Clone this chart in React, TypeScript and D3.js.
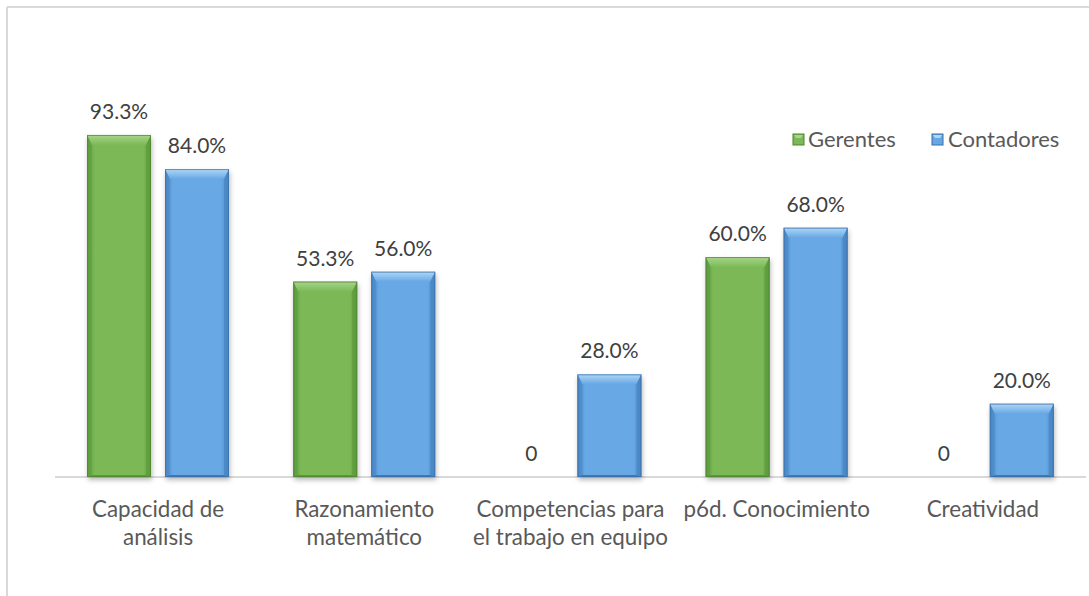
import React from "react";
import * as d3 from "d3";

const categories: string[][] = [
  ["Capacidad de", "análisis"],
  ["Razonamiento", "matemático"],
  ["Competencias para", "el trabajo en equipo"],
  ["p6d. Conocimiento"],
  ["Creatividad"],
];
const seriesNames = ["Gerentes", "Contadores"];
const gerentes = [93.3, 53.3, 0, 60.0, 0];
const contadores = [84.0, 56.0, 28.0, 68.0, 20.0];
const gerentesLabels = ["93.3%", "53.3%", "0", "60.0%", "0"];
const contadoresLabels = ["84.0%", "56.0%", "28.0%", "68.0%", "20.0%"];

const W = 1089;
const H = 596;
const FONT = "Lato, 'Open Sans', sans-serif";

const palette = [
  { mid: "#7bb957", edge: "#5c9a3b", top: "#a8d68a", bottom: "#5d963c", stroke: "#4f8332" },
  { mid: "#67a8e4", edge: "#4884c3", top: "#b0d7f7", bottom: "#3f79b5", stroke: "#3a6fa6" },
];

function Bar({ x, y, w, h, s }: { x: number; y: number; w: number; h: number; s: number }) {
  if (h <= 0) return null;
  const b = Math.min(10, h / 2);
  const sb = 5;
  const c = palette[s];
  return (
    <g>
      <rect x={x} y={y} width={w} height={h} fill={`url(#grad${s})`} filter="url(#shadow)" />
      <polygon points={`${x},${y} ${x + w},${y} ${x + w - sb},${y + b} ${x + sb},${y + b}`} fill={`url(#top${s})`} />
      <polygon points={`${x},${y} ${x + sb},${y + b} ${x + sb},${y + h - 2} ${x},${y + h}`} fill={c.edge} opacity={0.45} />
      <polygon points={`${x + w},${y} ${x + w - sb},${y + b} ${x + w - sb},${y + h - 2} ${x + w},${y + h}`} fill={c.edge} opacity={0.7} />
      <polygon points={`${x},${y + h} ${x + sb},${y + h - 2} ${x + w - sb},${y + h - 2} ${x + w},${y + h}`} fill={c.bottom} />
      <rect x={x + 0.5} y={y + 0.5} width={w - 1} height={h - 1} fill="none" stroke={c.stroke} strokeWidth={1} opacity={0.7} />
    </g>
  );
}

function LegendMarker({ x, y, s }: { x: number; y: number; s: number }) {
  const c = palette[s];
  const size = 11;
  return (
    <g>
      <rect x={x} y={y} width={size} height={size} fill={c.mid} stroke={c.stroke} strokeWidth={1} />
      <polygon points={`${x + 1},${y + 1} ${x + size - 1},${y + 1} ${x + size - 3},${y + 4} ${x + 3},${y + 4}`} fill={c.top} />
    </g>
  );
}

export default function App() {
  const x0 = d3.scaleBand<number>().domain(d3.range(categories.length)).range([55, 1086]).padding(0);
  const x1 = d3.scaleBand<number>().domain([0, 1]).range([32, 174]).paddingInner(14 / 78).paddingOuter(0);
  const y = d3.scaleLinear().domain([0, 100]).range([477, 110.4]);
  const values = [gerentes, contadores];
  const labels = [gerentesLabels, contadoresLabels];

  return (
    <svg width={W} height={H} style={{ position: "absolute", left: 0, top: 0 }} fontFamily={FONT}>
      <defs>
        {palette.map((c, i) => (
          <linearGradient key={i} id={`grad${i}`} x1="0" x2="1" y1="0" y2="0">
            <stop offset="0" stopColor={c.edge} />
            <stop offset="0.12" stopColor={c.mid} />
            <stop offset="0.88" stopColor={c.mid} />
            <stop offset="1" stopColor={c.edge} />
          </linearGradient>
        ))}
        {palette.map((c, i) => (
          <linearGradient key={`t${i}`} id={`top${i}`} x1="0" x2="0" y1="0" y2="1">
            <stop offset="0" stopColor={c.top} />
            <stop offset="1" stopColor={c.mid} />
          </linearGradient>
        ))}
        <filter id="shadow" x="-20%" y="-5%" width="140%" height="115%">
          <feDropShadow dx="1" dy="3" stdDeviation="2.5" floodColor="#000" floodOpacity="0.28" />
        </filter>
      </defs>
      <rect x={0} y={0} width={W} height={H} fill="#fff" />
      <line x1={7} x2={W} y1={7} y2={7} stroke="#d9d9d9" strokeWidth={2} />
      <line x1={7} x2={7} y1={7} y2={H} stroke="#d9d9d9" strokeWidth={2} />

      <line x1={55} x2={1086} y1={y(0)} y2={y(0)} stroke="#d9d9d9" strokeWidth={2} />

      {categories.map((cat, i) =>
        values.map((vals, s) => {
          const bx = (x0(i) as number) + (x1(s) as number);
          const bw = x1.bandwidth();
          const top = y(vals[i]);
          return (
            <g key={`${i}-${s}`}>
              <Bar x={bx} y={top} w={bw} h={y(0) - top} s={s} />
              <text x={bx + bw / 2} y={top - 16} textAnchor="middle" fontSize={21} fill="#404040">
                {labels[s][i]}
              </text>
            </g>
          );
        })
      )}

      {categories.map((cat, i) => (
        <text key={i} textAnchor="middle" fontSize={22.4} fill="#595959">
          {cat.map((line, k) => (
            <tspan key={k} x={(x0(i) as number) + x0.bandwidth() / 2} y={517 + k * 27.5}>
              {line}
            </tspan>
          ))}
        </text>
      ))}

      <g>
        <LegendMarker x={793} y={134} s={0} />
        <text x={808} y={147} fontSize={22} fill="#595959">{seriesNames[0]}</text>
        <LegendMarker x={932} y={134} s={1} />
        <text x={948} y={147} fontSize={22} fill="#595959">{seriesNames[1]}</text>
      </g>
    </svg>
  );
}
